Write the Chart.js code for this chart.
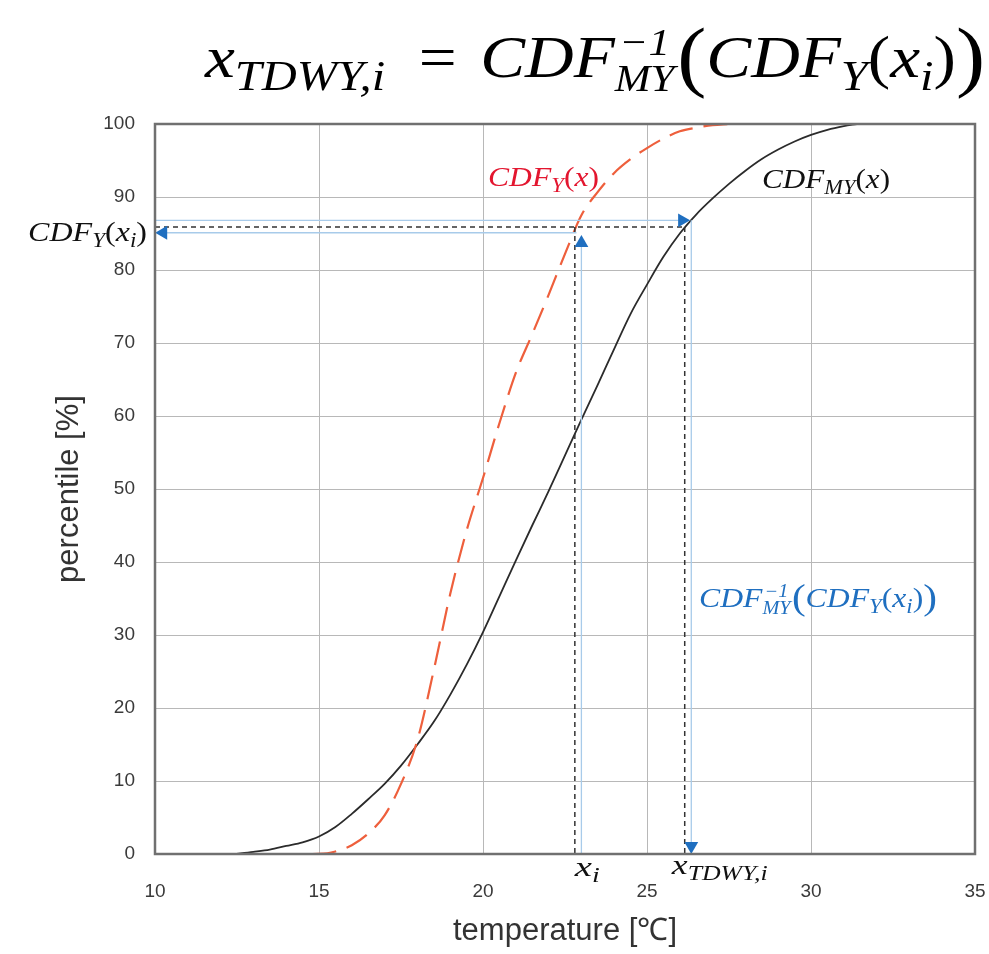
<!DOCTYPE html>
<html>
<head>
<meta charset="utf-8">
<script src="https://cdn.jsdelivr.net/npm/chart.js@4.4.1/dist/chart.umd.min.js"></script>
<style>body{margin:0;background:#fff}</style>
</head>
<body>
<canvas id="cdfChart" width="989" height="954"></canvas>
<script>
// CDF_MY(x) - black solid curve
const myTemps = [12.4, 13, 13.5, 14, 14.5, 15, 15.5, 16, 16.5, 17, 17.5, 18, 18.5, 19, 19.5, 20, 20.5, 21, 21.5, 22, 22.5,
    23, 23.5, 24, 24.5, 25, 25.5, 26, 26.5, 27, 27.5, 28, 28.5, 29, 29.5, 30, 30.5, 31, 31.4];
const myPct   = [0, 0.3, 0.6, 1.1, 1.6, 2.4, 3.7, 5.5, 7.5, 9.6, 12.1, 15.0, 18.1, 21.8, 25.9, 30.4, 35.3, 40.2, 45.0, 49.7, 54.6,
    59.5, 64.3, 69.2, 74.0, 78.0, 81.8, 85.0, 87.6, 89.8, 91.8, 93.6, 95.2, 96.5, 97.6, 98.5, 99.2, 99.7, 100];

// CDF_Y(x) - red dashed curve
const yTemps = [14.8, 15.25, 15.5, 16, 16.5, 17, 17.5, 18, 18.5, 19, 19.5, 20, 20.5, 21, 21.5, 22, 22.5, 23, 23.5,
    24, 24.5, 25, 25.5, 26, 26.5, 27, 27.5];
const yPct   = [0, 0.1, 0.35, 1.2, 2.8, 5.3, 9.6, 15.6, 25.2, 35.6, 44.3, 51.5, 59.0, 65.9, 71.2, 76.6, 82.2, 87.5, 90.7,
    93.3, 95.2, 96.7, 98.0, 99.0, 99.5, 99.85, 100];

// the worked example
const xi = 22.8;
const xTdwy = 26.15;
const pLevel = 85.9;

// blue helper arrows (start temp, start pct, end temp, end pct)
const arrowUp    = [23.0, 0, 23.0, 83.7];
const arrowRight = [10, 86.8, 26.07, 86.8];
const arrowDown  = [26.35, 86.8, 26.35, 1.1];
const arrowLeft  = [22.85, 85.1, 10.25, 85.1];

const toPts = (xs, ys) => xs.map((x, i) => ({x: x, y: ys[i]}));
const seg = (a) => [{x: a[0], y: a[1]}, {x: a[2], y: a[3]}];

const MATH_FONT = '"Liberation Serif", serif';
const BLUE = '#1f6fc0';
const LIGHT_BLUE = '#a8cbea';
const SANS = '"Liberation Sans", Arial, sans-serif';

function mathRun(ctx, tokens, size, draw) {
    let x = 0;
    for (const tk of tokens) {
        if (tk.gap) { x += tk.gap * size; continue; }
        if (tk.sup !== undefined) {
            ctx.font = `italic ${size * 0.64}px ${MATH_FONT}`;
            const w1 = ctx.measureText(tk.sup).width;
            const w2 = ctx.measureText(tk.sub).width;
            if (draw) {
                ctx.fillText(tk.sup, x + (Math.max(w1, w2) - w1) / 2, -size * 0.36);
                ctx.fillText(tk.sub, x, size * 0.24);
            }
            x += Math.max(w1, w2) + size * 0.04;
            continue;
        }
        const s = size * (tk.sub ? 0.72 : 1) * (tk.big ? 1.3 : 1);
        ctx.font = `${tk.up ? '' : 'italic '}${s}px ${MATH_FONT}`;
        const dy = tk.sub ? size * 0.22 : (tk.big ? size * 0.08 : 0);
        if (draw) ctx.fillText(tk.t, x, dy);
        x += ctx.measureText(tk.t).width;
    }
    return x;
}

function drawMath(ctx, tokens, size, left, baseline, width, color) {
    ctx.save();
    ctx.textAlign = 'left';
    ctx.textBaseline = 'alphabetic';
    const w = mathRun(ctx, tokens, size, false);
    ctx.fillStyle = color;
    ctx.translate(left, baseline);
    ctx.scale(width / w, 1);
    mathRun(ctx, tokens, size, true);
    ctx.restore();
}

const tCdfYx = [{t: 'CDF'}, {t: 'Y', sub: 1}, {t: '(', up: 1}, {t: 'x'}, {t: ')', up: 1}];
const tCdfMYx = [{t: 'CDF'}, {t: 'MY', sub: 1}, {t: '(', up: 1}, {t: 'x'}, {t: ')', up: 1}];
const tCdfYxi = [{t: 'CDF'}, {t: 'Y', sub: 1}, {t: '(', up: 1}, {t: 'x'}, {t: 'i', sub: 1}, {t: ')', up: 1}];
const tXi = [{t: 'x'}, {t: 'i', sub: 1}];
const tXtdwy = [{t: 'x'}, {t: 'TDWY,i', sub: 1}];
const tInverse = [{t: 'CDF'}, {sup: '\u22121', sub: 'MY'}, {t: '(', up: 1, big: 1}, {t: 'CDF'}, {t: 'Y', sub: 1},
    {t: '(', up: 1}, {t: 'x'}, {t: 'i', sub: 1}, {t: ')', up: 1}, {t: ')', up: 1, big: 1}];
const tTitle = [{t: 'x'}, {t: 'TDWY,i', sub: 1}, {gap: 0.5}, {t: '=', up: 1}, {gap: 0.35}].concat(tInverse);

const overlay = {
    id: 'overlay',
    afterDraw(chart) {
        const ctx = chart.ctx;
        const a = chart.chartArea;
        const sx = chart.scales.x;
        ctx.save();
        ctx.strokeStyle = '#707070';
        ctx.lineWidth = 2.5;
        ctx.strokeRect(a.left, a.top, a.right - a.left, a.bottom - a.top);
        ctx.restore();

        drawMath(ctx, tTitle, 60, 205, 77, 780, '#000');
        drawMath(ctx, tCdfYx, 28, 488, 186, 111, '#e3162f');
        drawMath(ctx, tCdfMYx, 28, 762, 188, 128, '#111');
        drawMath(ctx, tCdfYxi, 28, 28, 241, 119, '#111');
        drawMath(ctx, tXi, 28, sx.getPixelForValue(xi), 876, 25, '#111');
        drawMath(ctx, tXtdwy, 28, sx.getPixelForValue(xTdwy) - 13, 874, 96, '#111');
        drawMath(ctx, tInverse, 28, 699, 607, 238, BLUE);
    }
};

const dashedBlack = {borderColor: '#333', borderWidth: 1.5, borderDash: [5, 4], pointRadius: 0, fill: false};
const thinBlue = (rot) => ({
    borderColor: LIGHT_BLUE, borderWidth: 1.3, fill: false,
    pointStyle: 'triangle', pointRotation: rot, pointRadius: [0, 8],
    pointBackgroundColor: BLUE, pointBorderColor: BLUE, pointBorderWidth: 0
});

new Chart(document.getElementById('cdfChart'), {
    type: 'line',
    data: {
        datasets: [
            Object.assign({data: seg(arrowUp)}, thinBlue(0)),
            Object.assign({data: seg(arrowRight)}, thinBlue(90)),
            Object.assign({data: seg(arrowDown)}, thinBlue(180)),
            Object.assign({data: seg(arrowLeft)}, thinBlue(270)),
            Object.assign({data: [{x: 10, y: pLevel}, {x: xTdwy, y: pLevel}]}, dashedBlack),
            Object.assign({data: [{x: xi, y: pLevel}, {x: xi, y: 0}]}, dashedBlack),
            Object.assign({data: [{x: xTdwy, y: pLevel}, {x: xTdwy, y: 0}]}, dashedBlack),
            {
                label: 'CDF_Y(x)',
                data: toPts(yTemps, yPct),
                borderColor: '#ee5f3c', borderWidth: 2.2, borderDash: [24, 11],
                pointRadius: 0, cubicInterpolationMode: 'monotone', fill: false
            },
            {
                label: 'CDF_MY(x)',
                data: toPts(myTemps, myPct),
                borderColor: '#2b2b2b', borderWidth: 1.8,
                pointRadius: 0, cubicInterpolationMode: 'monotone', fill: false
            }
        ]
    },
    options: {
        responsive: false,
        animation: false,
        layout: {padding: {top: 124, right: 14, left: 0, bottom: 0}},
        plugins: {legend: {display: false}, tooltip: {enabled: false}},
        scales: {
            x: {
                type: 'linear', min: 10, max: 35,
                afterFit: (s) => { s.height = 100; s.paddingLeft = 0; s.paddingRight = 0; },
                ticks: {stepSize: 5, padding: 26, color: '#3a3a3a', font: {family: SANS, size: 19}},
                grid: {color: '#b8b8b8', lineWidth: 1, drawTicks: false},
                border: {display: false},
                title: {display: true, text: 'temperature [\u2103]', color: '#333', padding: {top: -8},
                    font: {family: SANS, size: 31}}
            },
            y: {
                type: 'linear', min: 0, max: 100,
                afterFit: (s) => { s.width = 155; },
                ticks: {stepSize: 10, padding: 20, color: '#3a3a3a', font: {family: SANS, size: 19}},
                grid: {color: '#b8b8b8', lineWidth: 1, drawTicks: false},
                border: {display: false},
                title: {display: true, text: 'percentile [%]', color: '#333', padding: {top: 51},
                    font: {family: SANS, size: 31}}
            }
        }
    },
    plugins: [overlay]
});
</script>
</body>
</html>
